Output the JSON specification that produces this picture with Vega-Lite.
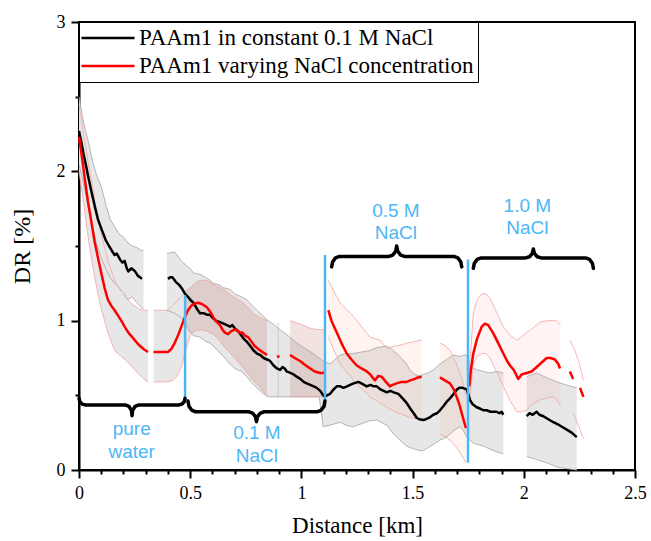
{
  "$schema": "https://vega.github.io/schema/vega-lite/v6.json",
  "width": 556,
  "height": 448,
  "autosize": {"type": "none"},
  "padding": {"left": 79, "top": 22, "right": 16, "bottom": 71},
  "background": "white",
  "datasets": {
    "lines": [
      {"s":"k","g":1,"x":0,"y":2.27},{"s":"k","g":1,"x":0.01,"y":2.2},{"s":"k","g":1,"x":0.02,"y":2.12},{"s":"k","g":1,"x":0.03,"y":2.05},{"s":"k","g":1,"x":0.042,"y":1.96},{"s":"k","g":1,"x":0.055,"y":1.87},{"s":"k","g":1,"x":0.072,"y":1.76},{"s":"k","g":1,"x":0.085,"y":1.68},{"s":"k","g":1,"x":0.102,"y":1.61},{"s":"k","g":1,"x":0.12,"y":1.54},{"s":"k","g":1,"x":0.135,"y":1.5},{"s":"k","g":1,"x":0.147,"y":1.47},{"s":"k","g":1,"x":0.16,"y":1.44},{"s":"k","g":1,"x":0.17,"y":1.45},{"s":"k","g":1,"x":0.184,"y":1.41},{"s":"k","g":1,"x":0.195,"y":1.39},{"s":"k","g":1,"x":0.205,"y":1.4},{"s":"k","g":1,"x":0.215,"y":1.35},{"s":"k","g":1,"x":0.222,"y":1.33},{"s":"k","g":1,"x":0.235,"y":1.35},{"s":"k","g":1,"x":0.245,"y":1.34},{"s":"k","g":1,"x":0.252,"y":1.33},{"s":"k","g":1,"x":0.265,"y":1.3},{"s":"k","g":1,"x":0.275,"y":1.29},{"s":"k","g":1,"x":0.283,"y":1.28},
      {"s":"k","g":2,"x":0.4,"y":1.28},{"s":"k","g":2,"x":0.41,"y":1.29},{"s":"k","g":2,"x":0.42,"y":1.29},{"s":"k","g":2,"x":0.435,"y":1.26},{"s":"k","g":2,"x":0.45,"y":1.24},{"s":"k","g":2,"x":0.465,"y":1.21},{"s":"k","g":2,"x":0.477,"y":1.18},{"s":"k","g":2,"x":0.49,"y":1.16},{"s":"k","g":2,"x":0.5,"y":1.14},{"s":"k","g":2,"x":0.514,"y":1.12},{"s":"k","g":2,"x":0.53,"y":1.08},{"s":"k","g":2,"x":0.544,"y":1.05},{"s":"k","g":2,"x":0.56,"y":1.05},{"s":"k","g":2,"x":0.575,"y":1.04},{"s":"k","g":2,"x":0.589,"y":1.04},{"s":"k","g":2,"x":0.6,"y":1.02},{"s":"k","g":2,"x":0.615,"y":1.0},{"s":"k","g":2,"x":0.634,"y":0.99},{"s":"k","g":2,"x":0.65,"y":0.98},{"s":"k","g":2,"x":0.665,"y":0.97},{"s":"k","g":2,"x":0.679,"y":0.96},{"s":"k","g":2,"x":0.69,"y":0.97},{"s":"k","g":2,"x":0.705,"y":0.94},{"s":"k","g":2,"x":0.716,"y":0.93},{"s":"k","g":2,"x":0.73,"y":0.9},{"s":"k","g":2,"x":0.74,"y":0.88},{"s":"k","g":2,"x":0.754,"y":0.86},{"s":"k","g":2,"x":0.77,"y":0.83},{"s":"k","g":2,"x":0.785,"y":0.8},{"s":"k","g":2,"x":0.8,"y":0.78},{"s":"k","g":2,"x":0.815,"y":0.77},{"s":"k","g":2,"x":0.83,"y":0.75},{"s":"k","g":2,"x":0.845,"y":0.74},{"s":"k","g":2,"x":0.859,"y":0.73},{"s":"k","g":2,"x":0.875,"y":0.7},{"s":"k","g":2,"x":0.89,"y":0.68},{"s":"k","g":2,"x":0.904,"y":0.67},{"s":"k","g":2,"x":0.915,"y":0.69},{"s":"k","g":2,"x":0.925,"y":0.68},{"s":"k","g":2,"x":0.934,"y":0.66},{"s":"k","g":2,"x":0.95,"y":0.65},{"s":"k","g":2,"x":0.965,"y":0.64},{"s":"k","g":2,"x":0.979,"y":0.625},{"s":"k","g":2,"x":0.995,"y":0.61},{"s":"k","g":2,"x":1.01,"y":0.59},{"s":"k","g":2,"x":1.024,"y":0.58},{"s":"k","g":2,"x":1.04,"y":0.57},{"s":"k","g":2,"x":1.055,"y":0.56},{"s":"k","g":2,"x":1.069,"y":0.55},{"s":"k","g":2,"x":1.085,"y":0.53},{"s":"k","g":2,"x":1.098,"y":0.5},{"s":"k","g":2,"x":1.106,"y":0.49},{"s":"k","g":2,"x":1.115,"y":0.5},{"s":"k","g":2,"x":1.129,"y":0.51},{"s":"k","g":2,"x":1.145,"y":0.54},{"s":"k","g":2,"x":1.159,"y":0.56},{"s":"k","g":2,"x":1.175,"y":0.56},{"s":"k","g":2,"x":1.189,"y":0.55},{"s":"k","g":2,"x":1.205,"y":0.56},{"s":"k","g":2,"x":1.219,"y":0.57},{"s":"k","g":2,"x":1.235,"y":0.58},{"s":"k","g":2,"x":1.256,"y":0.59},{"s":"k","g":2,"x":1.27,"y":0.58},{"s":"k","g":2,"x":1.282,"y":0.57},{"s":"k","g":2,"x":1.294,"y":0.56},{"s":"k","g":2,"x":1.31,"y":0.57},{"s":"k","g":2,"x":1.325,"y":0.56},{"s":"k","g":2,"x":1.339,"y":0.56},{"s":"k","g":2,"x":1.355,"y":0.54},{"s":"k","g":2,"x":1.37,"y":0.53},{"s":"k","g":2,"x":1.384,"y":0.52},{"s":"k","g":2,"x":1.4,"y":0.53},{"s":"k","g":2,"x":1.415,"y":0.52},{"s":"k","g":2,"x":1.436,"y":0.51},{"s":"k","g":2,"x":1.455,"y":0.48},{"s":"k","g":2,"x":1.473,"y":0.45},{"s":"k","g":2,"x":1.49,"y":0.41},{"s":"k","g":2,"x":1.505,"y":0.38},{"s":"k","g":2,"x":1.518,"y":0.35},{"s":"k","g":2,"x":1.53,"y":0.34},{"s":"k","g":2,"x":1.548,"y":0.335},{"s":"k","g":2,"x":1.56,"y":0.34},{"s":"k","g":2,"x":1.575,"y":0.35},{"s":"k","g":2,"x":1.593,"y":0.37},{"s":"k","g":2,"x":1.61,"y":0.38},{"s":"k","g":2,"x":1.623,"y":0.4},{"s":"k","g":2,"x":1.64,"y":0.43},{"s":"k","g":2,"x":1.655,"y":0.46},{"s":"k","g":2,"x":1.668,"y":0.48},{"s":"k","g":2,"x":1.685,"y":0.51},{"s":"k","g":2,"x":1.7,"y":0.54},{"s":"k","g":2,"x":1.71,"y":0.55},{"s":"k","g":2,"x":1.725,"y":0.55},{"s":"k","g":2,"x":1.743,"y":0.54},{"s":"k","g":2,"x":1.752,"y":0.5},{"s":"k","g":2,"x":1.758,"y":0.47},{"s":"k","g":2,"x":1.77,"y":0.44},{"s":"k","g":2,"x":1.788,"y":0.42},{"s":"k","g":2,"x":1.805,"y":0.41},{"s":"k","g":2,"x":1.82,"y":0.4},{"s":"k","g":2,"x":1.833,"y":0.4},{"s":"k","g":2,"x":1.85,"y":0.39},{"s":"k","g":2,"x":1.865,"y":0.39},{"s":"k","g":2,"x":1.878,"y":0.39},{"s":"k","g":2,"x":1.89,"y":0.38},{"s":"k","g":2,"x":1.9,"y":0.39},{"s":"k","g":2,"x":1.908,"y":0.37},
      {"s":"k","g":3,"x":2.013,"y":0.36},{"s":"k","g":3,"x":2.025,"y":0.38},{"s":"k","g":3,"x":2.04,"y":0.37},{"s":"k","g":3,"x":2.058,"y":0.39},{"s":"k","g":3,"x":2.07,"y":0.37},{"s":"k","g":3,"x":2.088,"y":0.36},{"s":"k","g":3,"x":2.11,"y":0.34},{"s":"k","g":3,"x":2.133,"y":0.32},{"s":"k","g":3,"x":2.16,"y":0.3},{"s":"k","g":3,"x":2.193,"y":0.27},{"s":"k","g":3,"x":2.215,"y":0.25},{"s":"k","g":3,"x":2.238,"y":0.22},
      {"s":"r","g":11,"x":0,"y":2.23},{"s":"r","g":11,"x":0.01,"y":2.13},{"s":"r","g":11,"x":0.02,"y":2.02},{"s":"r","g":11,"x":0.027,"y":1.94},{"s":"r","g":11,"x":0.04,"y":1.8},{"s":"r","g":11,"x":0.057,"y":1.65},{"s":"r","g":11,"x":0.07,"y":1.53},{"s":"r","g":11,"x":0.087,"y":1.41},{"s":"r","g":11,"x":0.1,"y":1.32},{"s":"r","g":11,"x":0.115,"y":1.22},{"s":"r","g":11,"x":0.13,"y":1.14},{"s":"r","g":11,"x":0.145,"y":1.1},{"s":"r","g":11,"x":0.16,"y":1.07},{"s":"r","g":11,"x":0.177,"y":1.03},{"s":"r","g":11,"x":0.19,"y":1.0},{"s":"r","g":11,"x":0.205,"y":0.96},{"s":"r","g":11,"x":0.222,"y":0.92},{"s":"r","g":11,"x":0.245,"y":0.88},{"s":"r","g":11,"x":0.267,"y":0.84},{"s":"r","g":11,"x":0.29,"y":0.81},{"s":"r","g":11,"x":0.31,"y":0.79},
      {"s":"r","g":12,"x":0.335,"y":0.79},{"s":"r","g":12,"x":0.357,"y":0.79},{"s":"r","g":12,"x":0.38,"y":0.79},{"s":"r","g":12,"x":0.4,"y":0.79},{"s":"r","g":12,"x":0.415,"y":0.81},{"s":"r","g":12,"x":0.43,"y":0.85},{"s":"r","g":12,"x":0.445,"y":0.9},{"s":"r","g":12,"x":0.46,"y":0.96},{"s":"r","g":12,"x":0.475,"y":1.02},{"s":"r","g":12,"x":0.49,"y":1.07},{"s":"r","g":12,"x":0.505,"y":1.1},{"s":"r","g":12,"x":0.52,"y":1.115},{"s":"r","g":12,"x":0.536,"y":1.12},{"s":"r","g":12,"x":0.555,"y":1.11},{"s":"r","g":12,"x":0.575,"y":1.09},{"s":"r","g":12,"x":0.59,"y":1.06},{"s":"r","g":12,"x":0.605,"y":1.02},{"s":"r","g":12,"x":0.62,"y":0.99},{"s":"r","g":12,"x":0.634,"y":0.97},{"s":"r","g":12,"x":0.645,"y":0.94},{"s":"r","g":12,"x":0.656,"y":0.92},{"s":"r","g":12,"x":0.67,"y":0.91},{"s":"r","g":12,"x":0.685,"y":0.93},{"s":"r","g":12,"x":0.7,"y":0.94},{"s":"r","g":12,"x":0.709,"y":0.94},{"s":"r","g":12,"x":0.72,"y":0.92},{"s":"r","g":12,"x":0.735,"y":0.92},{"s":"r","g":12,"x":0.746,"y":0.9},{"s":"r","g":12,"x":0.76,"y":0.89},{"s":"r","g":12,"x":0.77,"y":0.87},{"s":"r","g":12,"x":0.79,"y":0.83},{"s":"r","g":12,"x":0.806,"y":0.81},{"s":"r","g":12,"x":0.825,"y":0.79},{"s":"r","g":12,"x":0.845,"y":0.77},
      {"s":"r","g":13,"x":0.89,"y":0.76},{"s":"r","g":13,"x":0.902,"y":0.76},
      {"s":"r","g":14,"x":0.949,"y":0.77},{"s":"r","g":14,"x":0.97,"y":0.75},{"s":"r","g":14,"x":0.994,"y":0.73},{"s":"r","g":14,"x":1.02,"y":0.7},{"s":"r","g":14,"x":1.04,"y":0.68},{"s":"r","g":14,"x":1.06,"y":0.66},{"s":"r","g":14,"x":1.084,"y":0.65},{"s":"r","g":14,"x":1.1,"y":0.65},{"s":"r","g":14,"x":1.106,"y":0.66},
      {"s":"r","g":15,"x":1.121,"y":1.07},{"s":"r","g":15,"x":1.135,"y":1.0},{"s":"r","g":15,"x":1.159,"y":0.92},{"s":"r","g":15,"x":1.18,"y":0.85},{"s":"r","g":15,"x":1.204,"y":0.78},{"s":"r","g":15,"x":1.225,"y":0.74},{"s":"r","g":15,"x":1.249,"y":0.7},{"s":"r","g":15,"x":1.27,"y":0.68},{"s":"r","g":15,"x":1.294,"y":0.66},{"s":"r","g":15,"x":1.31,"y":0.64},{"s":"r","g":15,"x":1.325,"y":0.61},{"s":"r","g":15,"x":1.331,"y":0.6},{"s":"r","g":15,"x":1.345,"y":0.63},{"s":"r","g":15,"x":1.361,"y":0.625},{"s":"r","g":15,"x":1.38,"y":0.59},{"s":"r","g":15,"x":1.398,"y":0.56},{"s":"r","g":15,"x":1.41,"y":0.57},{"s":"r","g":15,"x":1.428,"y":0.58},{"s":"r","g":15,"x":1.45,"y":0.59},{"s":"r","g":15,"x":1.473,"y":0.59},{"s":"r","g":15,"x":1.49,"y":0.6},{"s":"r","g":15,"x":1.51,"y":0.61},{"s":"r","g":15,"x":1.525,"y":0.62},{"s":"r","g":15,"x":1.541,"y":0.625},
      {"s":"r","g":16,"x":1.623,"y":0.62},{"s":"r","g":16,"x":1.645,"y":0.6},{"s":"r","g":16,"x":1.668,"y":0.58},{"s":"r","g":16,"x":1.685,"y":0.54},{"s":"r","g":16,"x":1.698,"y":0.49},{"s":"r","g":16,"x":1.71,"y":0.44},{"s":"r","g":16,"x":1.721,"y":0.38},{"s":"r","g":16,"x":1.732,"y":0.32},{"s":"r","g":16,"x":1.74,"y":0.28},
      {"s":"r","g":17,"x":1.755,"y":0.56},{"s":"r","g":17,"x":1.762,"y":0.67},{"s":"r","g":17,"x":1.773,"y":0.78},{"s":"r","g":17,"x":1.79,"y":0.88},{"s":"r","g":17,"x":1.811,"y":0.96},{"s":"r","g":17,"x":1.825,"y":0.98},{"s":"r","g":17,"x":1.84,"y":0.97},{"s":"r","g":17,"x":1.863,"y":0.915},{"s":"r","g":17,"x":1.885,"y":0.85},{"s":"r","g":17,"x":1.908,"y":0.78},{"s":"r","g":17,"x":1.925,"y":0.73},{"s":"r","g":17,"x":1.938,"y":0.7},{"s":"r","g":17,"x":1.955,"y":0.67},{"s":"r","g":17,"x":1.965,"y":0.64},{"s":"r","g":17,"x":1.975,"y":0.61},{"s":"r","g":17,"x":1.99,"y":0.64},{"s":"r","g":17,"x":2.013,"y":0.65},{"s":"r","g":17,"x":2.035,"y":0.66},{"s":"r","g":17,"x":2.058,"y":0.69},{"s":"r","g":17,"x":2.08,"y":0.72},{"s":"r","g":17,"x":2.103,"y":0.75},{"s":"r","g":17,"x":2.12,"y":0.75},{"s":"r","g":17,"x":2.14,"y":0.74},{"s":"r","g":17,"x":2.155,"y":0.71},{"s":"r","g":17,"x":2.163,"y":0.68},
      {"s":"r","g":18,"x":2.207,"y":0.66},{"s":"r","g":18,"x":2.222,"y":0.61},
      {"s":"r","g":19,"x":2.253,"y":0.55},{"s":"r","g":19,"x":2.268,"y":0.49}
    ],
    "bb": [
      {"g":1,"x":0,"lo":2.05,"hi":2.5},{"g":1,"x":0.02,"lo":1.92,"hi":2.33},{"g":1,"x":0.042,"lo":1.76,"hi":2.2},{"g":1,"x":0.06,"lo":1.63,"hi":2.07},{"g":1,"x":0.08,"lo":1.51,"hi":1.97},{"g":1,"x":0.1,"lo":1.42,"hi":1.9},{"g":1,"x":0.12,"lo":1.35,"hi":1.78},{"g":1,"x":0.14,"lo":1.29,"hi":1.68},{"g":1,"x":0.16,"lo":1.25,"hi":1.63},{"g":1,"x":0.18,"lo":1.22,"hi":1.58},{"g":1,"x":0.2,"lo":1.19,"hi":1.56},{"g":1,"x":0.22,"lo":1.14,"hi":1.52},{"g":1,"x":0.24,"lo":1.16,"hi":1.5},{"g":1,"x":0.26,"lo":1.12,"hi":1.49},{"g":1,"x":0.28,"lo":1.09,"hi":1.47},{"g":1,"x":0.29,"lo":1.08,"hi":1.47},
      {"g":2,"x":0.395,"lo":1.07,"hi":1.45},{"g":2,"x":0.43,"lo":1.05,"hi":1.46},{"g":2,"x":0.46,"lo":1.02,"hi":1.4},{"g":2,"x":0.49,"lo":0.95,"hi":1.36},{"g":2,"x":0.5,"lo":0.92,"hi":1.35},{"g":2,"x":0.514,"lo":0.9,"hi":1.32},{"g":2,"x":0.544,"lo":0.89,"hi":1.31},{"g":2,"x":0.57,"lo":0.86,"hi":1.29},{"g":2,"x":0.589,"lo":0.85,"hi":1.27},{"g":2,"x":0.604,"lo":0.83,"hi":1.25},{"g":2,"x":0.63,"lo":0.79,"hi":1.24},{"g":2,"x":0.65,"lo":0.76,"hi":1.22},{"g":2,"x":0.679,"lo":0.71,"hi":1.21},{"g":2,"x":0.7,"lo":0.68,"hi":1.18},{"g":2,"x":0.73,"lo":0.66,"hi":1.16},{"g":2,"x":0.754,"lo":0.625,"hi":1.14},{"g":2,"x":0.78,"lo":0.58,"hi":1.1},{"g":2,"x":0.8,"lo":0.55,"hi":1.07},{"g":2,"x":0.829,"lo":0.51,"hi":1.03},{"g":2,"x":0.85,"lo":0.49,"hi":1.0},{"g":2,"x":0.88,"lo":0.49,"hi":0.97},{"g":2,"x":0.904,"lo":0.49,"hi":0.94},{"g":2,"x":0.94,"lo":0.49,"hi":0.9},{"g":2,"x":0.979,"lo":0.49,"hi":0.85},{"g":2,"x":1.02,"lo":0.49,"hi":0.81},{"g":2,"x":1.054,"lo":0.49,"hi":0.78},{"g":2,"x":1.08,"lo":0.49,"hi":0.75},{"g":2,"x":1.098,"lo":0.29,"hi":0.73},{"g":2,"x":1.129,"lo":0.3,"hi":0.71},{"g":2,"x":1.174,"lo":0.32,"hi":0.77},{"g":2,"x":1.2,"lo":0.3,"hi":0.78},{"g":2,"x":1.233,"lo":0.29,"hi":0.78},{"g":2,"x":1.27,"lo":0.31,"hi":0.79},{"g":2,"x":1.308,"lo":0.33,"hi":0.8},{"g":2,"x":1.339,"lo":0.335,"hi":0.82},{"g":2,"x":1.384,"lo":0.3,"hi":0.83},{"g":2,"x":1.413,"lo":0.245,"hi":0.8},{"g":2,"x":1.443,"lo":0.2,"hi":0.76},{"g":2,"x":1.473,"lo":0.16,"hi":0.71},{"g":2,"x":1.488,"lo":0.15,"hi":0.67},{"g":2,"x":1.51,"lo":0.14,"hi":0.64},{"g":2,"x":1.533,"lo":0.13,"hi":0.63},{"g":2,"x":1.548,"lo":0.13,"hi":0.64},{"g":2,"x":1.57,"lo":0.15,"hi":0.65},{"g":2,"x":1.593,"lo":0.17,"hi":0.67},{"g":2,"x":1.623,"lo":0.2,"hi":0.71},{"g":2,"x":1.653,"lo":0.22,"hi":0.74},{"g":2,"x":1.683,"lo":0.26,"hi":0.77},{"g":2,"x":1.713,"lo":0.29,"hi":0.76},{"g":2,"x":1.73,"lo":0.26,"hi":0.77},{"g":2,"x":1.743,"lo":0.22,"hi":0.77},{"g":2,"x":1.758,"lo":0.2,"hi":0.7},{"g":2,"x":1.773,"lo":0.18,"hi":0.68},{"g":2,"x":1.818,"lo":0.16,"hi":0.66},{"g":2,"x":1.848,"lo":0.14,"hi":0.65},{"g":2,"x":1.88,"lo":0.12,"hi":0.66},{"g":2,"x":1.908,"lo":0.11,"hi":0.65},
      {"g":3,"x":2.013,"lo":0.09,"hi":0.625},{"g":3,"x":2.058,"lo":0.07,"hi":0.65},{"g":3,"x":2.1,"lo":0.05,"hi":0.62},{"g":3,"x":2.148,"lo":0.02,"hi":0.59},{"g":3,"x":2.19,"lo":0.01,"hi":0.57},{"g":3,"x":2.238,"lo":0.0,"hi":0.55}
    ],
    "rb": [
      {"g":1,"z":"pw","x":0,"lo":2.0,"hi":2.45},{"g":1,"z":"pw","x":0.02,"lo":1.8,"hi":2.25},{"g":1,"z":"pw","x":0.042,"lo":1.55,"hi":2.05},{"g":1,"z":"pw","x":0.06,"lo":1.38,"hi":1.9},{"g":1,"z":"pw","x":0.08,"lo":1.22,"hi":1.73},{"g":1,"z":"pw","x":0.1,"lo":1.08,"hi":1.58},{"g":1,"z":"pw","x":0.13,"lo":0.92,"hi":1.4},{"g":1,"z":"pw","x":0.16,"lo":0.8,"hi":1.27},{"g":1,"z":"pw","x":0.19,"lo":0.76,"hi":1.19},{"g":1,"z":"pw","x":0.207,"lo":0.74,"hi":1.16},{"g":1,"z":"pw","x":0.24,"lo":0.69,"hi":1.11},{"g":1,"z":"pw","x":0.27,"lo":0.64,"hi":1.08},{"g":1,"z":"pw","x":0.29,"lo":0.61,"hi":1.07},{"g":1,"z":"pw","x":0.31,"lo":0.59,"hi":1.07},
      {"g":2,"z":"pw","x":0.335,"lo":0.59,"hi":1.07},{"g":2,"z":"pw","x":0.375,"lo":0.59,"hi":1.07},{"g":2,"z":"pw","x":0.4,"lo":0.59,"hi":1.07},{"g":2,"z":"pw","x":0.42,"lo":0.6,"hi":1.1},{"g":2,"z":"pw","x":0.44,"lo":0.625,"hi":1.13},{"g":2,"z":"pw","x":0.46,"lo":0.69,"hi":1.16},{"g":2,"z":"pw","x":0.48,"lo":0.8,"hi":1.2},
      {"g":3,"z":"c01","x":0.48,"lo":0.8,"hi":1.2},{"g":3,"z":"c01","x":0.5,"lo":0.9,"hi":1.22},{"g":3,"z":"c01","x":0.52,"lo":0.93,"hi":1.25},{"g":3,"z":"c01","x":0.544,"lo":0.94,"hi":1.27},{"g":3,"z":"c01","x":0.574,"lo":0.93,"hi":1.27},{"g":3,"z":"c01","x":0.6,"lo":0.91,"hi":1.25},{"g":3,"z":"c01","x":0.619,"lo":0.89,"hi":1.23},{"g":3,"z":"c01","x":0.65,"lo":0.83,"hi":1.21},{"g":3,"z":"c01","x":0.694,"lo":0.76,"hi":1.16},{"g":3,"z":"c01","x":0.74,"lo":0.68,"hi":1.12},{"g":3,"z":"c01","x":0.784,"lo":0.6,"hi":1.05},{"g":3,"z":"c01","x":0.815,"lo":0.55,"hi":1.02},{"g":3,"z":"c01","x":0.845,"lo":0.5,"hi":1.0},
      {"g":4,"z":"c01","x":0.893,"lo":0.49,"hi":0.98},{"g":4,"z":"c01","x":0.899,"lo":0.49,"hi":0.98},
      {"g":5,"z":"c01","x":0.949,"lo":0.49,"hi":1.0},{"g":5,"z":"c01","x":0.99,"lo":0.49,"hi":0.98},{"g":5,"z":"c01","x":1.039,"lo":0.49,"hi":0.95},{"g":5,"z":"c01","x":1.07,"lo":0.49,"hi":0.94},{"g":5,"z":"c01","x":1.1,"lo":0.49,"hi":0.94},
      {"g":6,"z":"c05","x":1.121,"lo":0.89,"hi":1.27},{"g":6,"z":"c05","x":1.159,"lo":0.76,"hi":1.16},{"g":6,"z":"c05","x":1.174,"lo":0.71,"hi":1.12},{"g":6,"z":"c05","x":1.233,"lo":0.6,"hi":1.03},{"g":6,"z":"c05","x":1.308,"lo":0.49,"hi":0.89},{"g":6,"z":"c05","x":1.353,"lo":0.45,"hi":0.87},{"g":6,"z":"c05","x":1.384,"lo":0.42,"hi":0.815},{"g":6,"z":"c05","x":1.42,"lo":0.39,"hi":0.83},{"g":6,"z":"c05","x":1.458,"lo":0.37,"hi":0.84},{"g":6,"z":"c05","x":1.473,"lo":0.36,"hi":0.85},{"g":6,"z":"c05","x":1.541,"lo":0.33,"hi":0.87},
      {"g":7,"z":"c05","x":1.623,"lo":0.24,"hi":0.85},{"g":7,"z":"c05","x":1.65,"lo":0.22,"hi":0.83},{"g":7,"z":"c05","x":1.668,"lo":0.2,"hi":0.8},{"g":7,"z":"c05","x":1.698,"lo":0.15,"hi":0.71},{"g":7,"z":"c05","x":1.72,"lo":0.1,"hi":0.62},{"g":7,"z":"c05","x":1.74,"lo":0.05,"hi":0.5},
      {"g":8,"z":"c10","x":1.755,"lo":0.45,"hi":0.66},{"g":8,"z":"c10","x":1.773,"lo":0.71,"hi":1.05},{"g":8,"z":"c10","x":1.79,"lo":0.76,"hi":1.14},{"g":8,"z":"c10","x":1.811,"lo":0.78,"hi":1.18},{"g":8,"z":"c10","x":1.83,"lo":0.78,"hi":1.18},{"g":8,"z":"c10","x":1.848,"lo":0.75,"hi":1.15},{"g":8,"z":"c10","x":1.87,"lo":0.68,"hi":1.08},{"g":8,"z":"c10","x":1.908,"lo":0.56,"hi":0.96},{"g":8,"z":"c10","x":1.94,"lo":0.46,"hi":0.9},{"g":8,"z":"c10","x":1.968,"lo":0.39,"hi":0.87},{"g":8,"z":"c10","x":1.99,"lo":0.39,"hi":0.89},{"g":8,"z":"c10","x":2.013,"lo":0.4,"hi":0.92},{"g":8,"z":"c10","x":2.04,"lo":0.44,"hi":0.95},{"g":8,"z":"c10","x":2.073,"lo":0.47,"hi":0.99},{"g":8,"z":"c10","x":2.103,"lo":0.48,"hi":1.0},{"g":8,"z":"c10","x":2.133,"lo":0.49,"hi":1.0},{"g":8,"z":"c10","x":2.148,"lo":0.47,"hi":1.0},{"g":8,"z":"c10","x":2.165,"lo":0.43,"hi":0.97}
    ],
    "re": [
      {"g":1,"x":2.208,"y":0.87},{"g":1,"x":2.23,"y":0.8},{"g":1,"x":2.25,"y":0.71},{"g":1,"x":2.268,"y":0.6},
      {"g":2,"x":2.223,"y":0.38},{"g":2,"x":2.245,"y":0.3},{"g":2,"x":2.268,"y":0.21}
    ],
    "blue": [
      {"x":0.477,"y":0.46,"y2":1.17},{"x":1.106,"y":0.42,"y2":1.44},{"x":1.749,"y":0.05,"y2":1.41}
    ],
    "braces": [
      {"b":1,"x":0,"y":0.48},{"b":1,"x":0.004,"y":0.4575},{"b":1,"x":0.015,"y":0.441},{"b":1,"x":0.03,"y":0.435},{"b":1,"x":0.21,"y":0.435},{"b":1,"x":0.225,"y":0.4255},{"b":1,"x":0.236,"y":0.3995},{"b":1,"x":0.2385,"y":0.364},{"b":1,"x":0.241,"y":0.3995},{"b":1,"x":0.252,"y":0.4255},{"b":1,"x":0.267,"y":0.435},{"b":1,"x":0.447,"y":0.435},{"b":1,"x":0.462,"y":0.441},{"b":1,"x":0.473,"y":0.4575},{"b":1,"x":0.477,"y":0.48},
      {"b":2,"x":0.49,"y":0.462},{"b":2,"x":0.4947,"y":0.426},{"b":2,"x":0.5075,"y":0.3996},{"b":2,"x":0.525,"y":0.39},{"b":2,"x":0.763,"y":0.39},{"b":2,"x":0.7805,"y":0.3812},{"b":2,"x":0.7933,"y":0.357},{"b":2,"x":0.798,"y":0.324},{"b":2,"x":0.8027,"y":0.357},{"b":2,"x":0.8155,"y":0.3812},{"b":2,"x":0.833,"y":0.39},{"b":2,"x":1.071,"y":0.39},{"b":2,"x":1.0885,"y":0.3996},{"b":2,"x":1.1013,"y":0.426},{"b":2,"x":1.106,"y":0.462},
      {"b":3,"x":1.136,"y":1.36},{"b":3,"x":1.1407,"y":1.395},{"b":3,"x":1.1535,"y":1.4206},{"b":3,"x":1.171,"y":1.43},{"b":3,"x":1.3935,"y":1.43},{"b":3,"x":1.411,"y":1.4394},{"b":3,"x":1.4238,"y":1.465},{"b":3,"x":1.4285,"y":1.5},{"b":3,"x":1.4332,"y":1.465},{"b":3,"x":1.446,"y":1.4394},{"b":3,"x":1.4635,"y":1.43},{"b":3,"x":1.686,"y":1.43},{"b":3,"x":1.7035,"y":1.4206},{"b":3,"x":1.7163,"y":1.395},{"b":3,"x":1.721,"y":1.36},
      {"b":4,"x":1.773,"y":1.35},{"b":4,"x":1.7777,"y":1.385},{"b":4,"x":1.7905,"y":1.4106},{"b":4,"x":1.808,"y":1.42},{"b":4,"x":2.008,"y":1.42},{"b":4,"x":2.0255,"y":1.428},{"b":4,"x":2.0383,"y":1.45},{"b":4,"x":2.043,"y":1.48},{"b":4,"x":2.0477,"y":1.45},{"b":4,"x":2.0605,"y":1.428},{"b":4,"x":2.078,"y":1.42},{"b":4,"x":2.278,"y":1.42},{"b":4,"x":2.2955,"y":1.4106},{"b":4,"x":2.3083,"y":1.385},{"b":4,"x":2.313,"y":1.35}
    ],
    "labels": [
      {"x":0.237,"y":0.275,"t":"pure"},{"x":0.237,"y":0.12,"t":"water"},
      {"x":0.8,"y":0.245,"t":"0.1 M"},{"x":0.8,"y":0.096,"t":"NaCl"},
      {"x":1.425,"y":1.737,"t":"0.5 M"},{"x":1.425,"y":1.585,"t":"NaCl"},
      {"x":2.016,"y":1.77,"t":"1.0 M"},{"x":2.016,"y":1.62,"t":"NaCl"}
    ]
  },
  "encoding": {
    "x": {
      "field": "x", "type": "quantitative",
      "scale": {"domain": [0, 2.5], "nice": false, "zero": false},
      "axis": {
        "title": "Distance [km]",
        "values": [0,0.1,0.2,0.3,0.4,0.5,0.6,0.7,0.8,0.9,1,1.1,1.2,1.3,1.4,1.5,1.6,1.7,1.8,1.9,2,2.1,2.2,2.3,2.4,2.5],
        "labelExpr": "abs(datum.value*2 - round(datum.value*2)) < 0.001 ? toString(datum.value) : ''",
        "tickSize": {"condition": {"test": "abs(datum.value*2 - round(datum.value*2)) < 0.001", "value": 8}, "value": 4},
        "labelFlush": false,
        "labelOverlap": false,
        "labelPadding": 6,
        "titlePadding": 12,
        "titleFontSize": 23
      }
    }
  },
  "layer": [
    {
      "data": {"name": "bb"},
      "mark": {"type": "area", "fill": "#e7e7e7", "opacity": 1},
      "encoding": {
        "y": {
          "field": "lo", "type": "quantitative", "title": "DR [%]",
          "scale": {"domain": [0, 3], "nice": false, "zero": false},
          "axis": {
            "values": [0,0.5,1,1.5,2,2.5,3],
            "labelExpr": "abs(datum.value - round(datum.value)) < 0.001 ? toString(datum.value) : ''",
            "tickSize": {"condition": {"test": "abs(datum.value - round(datum.value)) < 0.001", "value": 8}, "value": 4},
            "labelFlush": false,
            "labelOverlap": false,
            "labelPadding": 6,
            "titlePadding": 22,
            "titleFontSize": 24
          }
        },
        "y2": {"field": "hi"},
        "detail": {"field": "g"}
      }
    },
    {
      "data": {"name": "rb"},
      "mark": {"type": "area"},
      "encoding": {
        "y": {"field": "lo", "type": "quantitative", "title": "DR [%]", "scale": {"domain": [0, 3]}},
        "y2": {"field": "hi"},
        "fill": {"field": "z", "type": "nominal", "legend": null,
                 "scale": {"domain": ["pw","c01","c05","c10"], "range": ["#e7e7e7","rgba(170,60,50,0.15)","rgba(255,150,100,0.1)","rgba(255,120,120,0.09)"]}},
        "detail": {"field": "g"}
      }
    },
    {
      "data": {"name": "bb"},
      "mark": {"type": "line", "stroke": "#a5a5a5", "strokeWidth": 0.8},
      "encoding": {"y": {"field": "lo", "type": "quantitative", "title": "DR [%]", "scale": {"domain": [0, 3]}}, "detail": {"field": "g"}}
    },
    {
      "data": {"name": "bb"},
      "mark": {"type": "line", "stroke": "#a5a5a5", "strokeWidth": 0.8},
      "encoding": {"y": {"field": "hi", "type": "quantitative", "title": "DR [%]", "scale": {"domain": [0, 3]}}, "detail": {"field": "g"}}
    },
    {
      "data": {"name": "rb"},
      "mark": {"type": "line", "stroke": "#f4a3a3", "strokeWidth": 0.8},
      "encoding": {"y": {"field": "lo", "type": "quantitative", "title": "DR [%]", "scale": {"domain": [0, 3]}}, "detail": {"field": "g"}}
    },
    {
      "data": {"name": "rb"},
      "mark": {"type": "line", "stroke": "#f4a3a3", "strokeWidth": 0.8},
      "encoding": {"y": {"field": "hi", "type": "quantitative", "title": "DR [%]", "scale": {"domain": [0, 3]}}, "detail": {"field": "g"}}
    },
    {
      "data": {"name": "re"},
      "mark": {"type": "line", "stroke": "#f4a3a3", "strokeWidth": 0.8},
      "encoding": {"y": {"field": "y", "type": "quantitative", "title": "DR [%]", "scale": {"domain": [0, 3]}}, "detail": {"field": "g"}}
    },
    {
      "data": {"name": "lines"},
      "mark": {"type": "line", "strokeWidth": 2.5, "strokeJoin": "round"},
      "encoding": {
        "y": {"field": "y", "type": "quantitative", "title": "DR [%]", "scale": {"domain": [0, 3]}},
        "color": {"field": "s", "type": "nominal",
                  "scale": {"domain": ["k", "r"], "range": ["#000000", "#ff0000"]},
                  "legend": {
                    "title": null, "orient": "top-left", "offset": 0,
                    "labelExpr": "datum.label == 'k' ? 'PAAm1 in constant 0.1 M NaCl' : 'PAAm1 varying NaCl concentration'",
                    "symbolType": "M-2.5,0H2.5", "symbolSize": 450, "symbolStrokeWidth": 2.5,
                    "symbolOffset": 13,
                    "labelFont": "Liberation Serif", "labelFontSize": 23, "labelColor": "black", "labelLimit": 600,
                    "labelOffset": 19, "rowPadding": 4, "padding": 4,
                    "strokeColor": "black", "fillColor": "white"
                  }},
        "detail": {"field": "g"}
      }
    },
    {
      "data": {"name": "blue"},
      "mark": {"type": "rule", "stroke": "#4db6f7", "strokeWidth": 2.5},
      "encoding": {
        "y": {"field": "y", "type": "quantitative", "title": "DR [%]", "scale": {"domain": [0, 3]}},
        "y2": {"field": "y2"}
      }
    },
    {
      "data": {"name": "braces"},
      "mark": {"type": "line", "stroke": "black", "strokeWidth": 3.5, "strokeJoin": "round", "strokeCap": "round"},
      "encoding": {
        "y": {"field": "y", "type": "quantitative", "title": "DR [%]", "scale": {"domain": [0, 3]}},
        "detail": {"field": "b"}
      }
    },
    {
      "data": {"name": "labels"},
      "mark": {"type": "text", "font": "Liberation Sans", "fontSize": 19, "fill": "#4db6f7", "align": "center", "baseline": "middle"},
      "encoding": {
        "y": {"field": "y", "type": "quantitative", "title": "DR [%]", "scale": {"domain": [0, 3]}},
        "text": {"field": "t"}
      }
    }
  ],
  "config": {
    "view": {"stroke": "black", "strokeWidth": 2},
    "axis": {
      "grid": false,
      "domainColor": "black", "domainWidth": 2,
      "tickColor": "black", "tickWidth": 2,
      "labelFont": "Liberation Serif", "labelFontSize": 18, "labelColor": "black",
      "titleFont": "Liberation Serif", "titleFontWeight": "normal", "titleColor": "black"
    }
  }
}
